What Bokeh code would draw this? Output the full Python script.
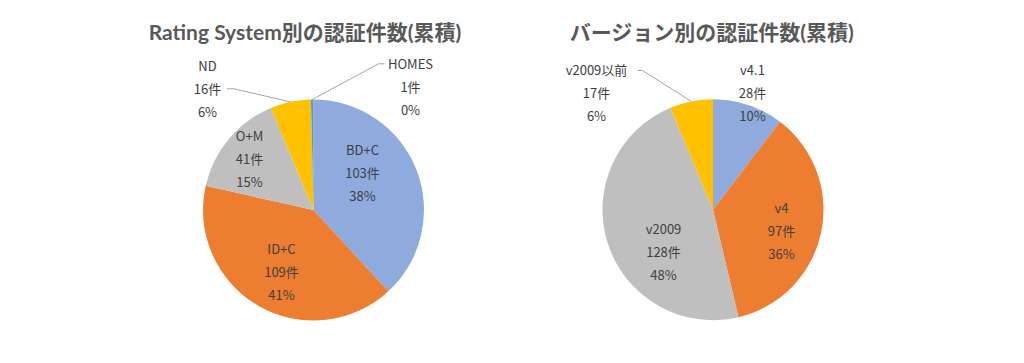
import numpy as np
from bokeh.plotting import figure
from bokeh.models import Range1d, ColumnDataSource
from bokeh.core.properties import value
from bokeh.embed import file_html
from bokeh.resources import INLINE

# ---------------- data ----------------
rs_categories = ["BD+C", "ID+C", "O+M", "ND", "HOMES"]
rs_counts = [103, 109, 41, 16, 1]
rs_percent_labels = ["38%", "41%", "15%", "6%", "0%"]

ver_categories = ["v4.1", "v4", "v2009", "v2009以前"]
ver_counts = [28, 97, 128, 17]
ver_percent_labels = ["10%", "36%", "48%", "6%"]

titles = ["Rating System別の認証件数(累積)", "バージョン別の認証件数(累積)"]

# ---------------- styles / layout ----------------
rs_colors = ["#8FAADC", "#ED7D31", "#BFBFBF", "#FFC000", "#5B9BD5"]
ver_colors = ["#8FAADC", "#ED7D31", "#BFBFBF", "#FFC000"]
LABEL_COLOR = "#404040"
TITLE_COLOR = "#595959"
LEADER_COLOR = "#A6A6A6"
FONT = "Noto Sans CJK JP"
TITLE_FONT = "Lato, Noto Sans CJK JP"

W, H = 1008, 347
def X(px):
    return px
def Y(py):
    return H - py

R = 110.5
pie_centers = [(313.0, 209.5), (712.5, 209.2)]
title_xy = [(304.5, 31), (711.5, 30.5)]
# centre of the middle text line of each label (page pixels)
rs_label_xy = [(362, 171.5), (281, 271), (249, 158), (207, 87.5), (410, 86)]
ver_label_xy = [(752, 92), (781, 230), (663, 251), (596, 91.5)]
LINE_GAP = 23
# leader lines: index -> (start, elbow) in page pixels
rs_leaders = {3: [(226.5, 88.3), (233.5, 88.3)], 4: [(384.0, 63.3), (378.0, 63.3)]}
ver_leaders = {3: [(637.0, 70.0), (642.0, 70.0)]}

p = figure(width=W, height=H, x_range=Range1d(0, W), y_range=Range1d(0, H),
           output_backend="svg", toolbar_location=None, min_border=0)
p.axis.visible = False
p.grid.visible = False
p.outline_line_color = None
p.background_fill_color = "white"
p.border_fill_color = "white"


def draw_pie(cats, counts, pcts, colors, center, label_xy, leaders, title, txy):
    counts = np.array(counts, dtype=float)
    total = counts.sum()
    cum = np.concatenate([[0], np.cumsum(counts)]) / total
    start = np.pi / 2 - 2 * np.pi * cum[1:]
    end = np.pi / 2 - 2 * np.pi * cum[:-1]
    cx, cy = X(center[0]), Y(center[1])
    src = ColumnDataSource(dict(x=[cx] * len(cats), y=[cy] * len(cats),
                                start=start, end=end, color=colors))
    p.wedge(x="x", y="y", radius=R, start_angle="start", end_angle="end",
            fill_color="color", line_color=None, source=src)

    # labels: three lines per slice
    xs, ys, texts = [], [], []
    for i, c in enumerate(cats):
        lx, ly = label_xy[i]
        for k, t in enumerate([c, f"{int(counts[i])}件", pcts[i]]):
            xs.append(X(lx))
            ys.append(Y(ly + (k - 1) * LINE_GAP))
            texts.append(t)
    p.text(x=xs, y=ys, text=texts, text_align="center", text_baseline="middle",
           text_font=value(FONT), text_font_size="13px", text_color=LABEL_COLOR)

    # leader lines to the slice edge at mid angle
    mids = (start + end) / 2
    lxs, lys = [], []
    for i, pts in leaders.items():
        ex = cx + R * np.cos(mids[i])
        ey = cy + R * np.sin(mids[i])
        lxs.append([X(pts[0][0]), X(pts[1][0]), ex])
        lys.append([Y(pts[0][1]), Y(pts[1][1]), ey])
    if lxs:
        p.multi_line(xs=lxs, ys=lys, line_color=LEADER_COLOR, line_width=1)

    p.text(x=[X(txy[0])], y=[Y(txy[1])], text=[title], text_align="center",
           text_baseline="middle", text_font=value(TITLE_FONT), text_font_size="21px",
           text_font_style="bold", text_color=TITLE_COLOR)


draw_pie(rs_categories, rs_counts, rs_percent_labels, rs_colors,
         pie_centers[0], rs_label_xy, rs_leaders, titles[0], title_xy[0])
draw_pie(ver_categories, ver_counts, ver_percent_labels, ver_colors,
         pie_centers[1], ver_label_xy, ver_leaders, titles[1], title_xy[1])

open("out.html", "w").write(file_html(p, INLINE))
